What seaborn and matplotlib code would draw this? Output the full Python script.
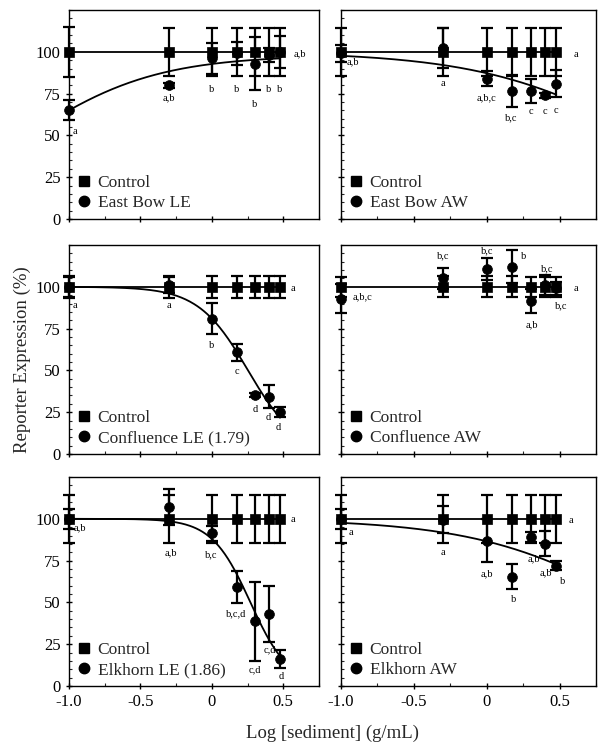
import numpy as np
import pandas as pd
import matplotlib
matplotlib.use("Agg")
import matplotlib.pyplot as plt
from matplotlib.lines import Line2D
from matplotlib.ticker import FixedLocator, MultipleLocator
import seaborn as sns

# ---------------- data ----------------
log_conc = [-1.0, -0.301, 0.0, 0.176, 0.301, 0.398, 0.477]

panel_names = ["East Bow LE", "East Bow AW", "Confluence LE (1.79)",
               "Confluence AW", "Elkhorn LE (1.86)", "Elkhorn AW"]

control_mean = {
    "East Bow LE": [100, 100, 100, 100, 100, 100, 100],
    "East Bow AW": [100, 100, 100, 100, 100, 100, 100],
    "Confluence LE (1.79)": [100, 100, 100, 100, 100, 100, 100],
    "Confluence AW": [100, 100, 100, 100, 100, 100, 100],
    "Elkhorn LE (1.86)": [100, 100, 100, 100, 100, 100, 100],
    "Elkhorn AW": [100, 100, 100, 100, 100, 100, 100],
}
control_err = {
    "East Bow LE": [15, 14.5, 14.5, 14.5, 14.5, 14.5, 14.5],
    "East Bow AW": [14.5, 14.5, 14.5, 14.5, 14.5, 14.5, 14.5],
    "Confluence LE (1.79)": [6.5, 6.5, 6.5, 6.5, 6.5, 6.5, 6.5],
    "Confluence AW": [6, 6.3, 6.3, 6.3, 6, 6, 6],
    "Elkhorn LE (1.86)": [14.5, 14.5, 14.5, 14.5, 14.5, 14.5, 14.5],
    "Elkhorn AW": [14.4, 14.4, 14.4, 14.4, 14.4, 14.4, 14.4],
}
sample_mean = {
    "East Bow LE": [65, 80, 96, 99, 93, 98, 100],
    "East Bow AW": [99, 102.5, 84, 76.5, 76.5, 74, 81],
    "Confluence LE (1.79)": [100, 101, 81, 60.8, 35.3, 34.3, 25.3],
    "Confluence AW": [93, 105, 110.6, 112, 91.6, 101, 99],
    "Elkhorn LE (1.86)": [100, 107, 91.3, 59.4, 38.8, 43.2, 16.2],
    "Elkhorn AW": [100, 99.5, 87, 65.4, 89, 85.2, 71.9],
}
sample_err = {
    "East Bow LE": [6, 1.5, 9.3, 6.7, 16, 4, 9.5],
    "East Bow AW": [5, 12, 4.5, 9.5, 7.3, 1.5, 8],
    "Confluence LE (1.79)": [6, 5, 9.3, 5, 1, 7, 3],
    "Confluence AW": [8.5, 6.4, 6.5, 10, 7, 6, 4],
    "Elkhorn LE (1.86)": [6, 11, 4.5, 9.6, 23.6, 16.7, 5.6],
    "Elkhorn AW": [6, 8, 13, 7.3, 3, 7.5, 2.8],
}
# fitted dose-response curves: (bottom, top, logEC50, hill); None = no curve
fit_params = {
    "East Bow LE": (0, 98, -1.31, -0.95),
    "East Bow AW": (0, 100, 1.074, 0.776),
    "Confluence LE (1.79)": (0, 100, 0.253, 2.49),
    "Confluence AW": None,
    "Elkhorn LE (1.86)": (0, 100, 0.27, 3.2),
    "Elkhorn AW": (0, 100, 1.01, 0.80),
}
# significance letters (text, x, y)
letters = {
    "East Bow LE": [("a", -0.958, 52.4), ("a,b", -0.30, 72.6), ("b", 0.0, 77.4),
                    ("b", 0.176, 77.4), ("b", 0.301, 68.5), ("b", 0.398, 77.4),
                    ("b", 0.477, 77.4), ("a,b", 0.616, 98.6)],
    "East Bow AW": [("a,b", -0.916, 94.2), ("a", -0.30, 80.8), ("a,b,c", 0.0, 72.4),
                    ("b,c", 0.17, 60.5), ("c", 0.301, 64.5), ("c", 0.398, 64.0),
                    ("c", 0.477, 65.0), ("a", 0.612, 98.6)],
    "Confluence LE (1.79)": [("a", -0.96, 89), ("a", -0.30, 89), ("b", 0.0, 64.7),
                             ("c", 0.176, 49.2), ("d", 0.305, 26.9), ("d", 0.398, 21.7),
                             ("d", 0.468, 15.7), ("a", 0.569, 99)],
    "Confluence AW": [("a,b,c", -0.851, 94), ("b,c", -0.30, 118.5), ("b,c", 0.0, 121.5),
                      ("b", 0.254, 118), ("a,b", 0.312, 77.5), ("b,c", 0.414, 111),
                      ("b,c", 0.509, 88.6), ("a", 0.612, 99)],
    "Elkhorn LE (1.86)": [("a,b", -0.924, 94.7), ("a,b", -0.29, 79.8), ("b,c", -0.005, 78.4),
                          ("b,c,d", 0.17, 43.2), ("c,d", 0.303, 9.9), ("c,d", 0.407, 21.8),
                          ("d", 0.488, 5.9), ("a", 0.569, 99.6)],
    "Elkhorn AW": [("a", -0.935, 91.7), ("a", -0.30, 79.8), ("a,b", 0.0, 67.3),
                   ("b", 0.184, 51.5), ("a,b", 0.321, 75.9), ("a,b", 0.405, 67.9),
                   ("b", 0.519, 62.6), ("a", 0.575, 99.2)],
}

xtick_vals = [-1.0, -0.5, 0.0, 0.5]
xtick_labels = ["-1.0", "-0.5", "0", "0.5"]
ytick_vals = [0, 25, 50, 75, 100]
ytick_labels = ["0", "25", "50", "75", "100"]


def hill(x, bottom, top, logec, h):
    return bottom + (top - bottom) / (1.0 + 10 ** ((x - logec) * h))


# ---------------- style ----------------
sns.set_theme(style="ticks")
plt.rcParams["font.family"] = ["Liberation Serif", "DejaVu Serif"]
plt.rcParams["axes.linewidth"] = 1.0

W, H = 605, 750
fig = plt.figure(figsize=(W / 100, H / 100), dpi=100)

col_px = [(69, 319), (341, 596)]
row_px = [(10, 219), (245, 454), (477, 686)]

for i, name in enumerate(panel_names):
    r, c = divmod(i, 2)
    x0, x1 = col_px[c]
    y0, y1 = row_px[r]
    ax = fig.add_axes([x0 / W, 1 - y1 / H, (x1 - x0) / W, (y1 - y0) / H])

    ax.errorbar(log_conc, control_mean[name], yerr=control_err[name], fmt="none",
                ecolor="black", elinewidth=1.6, capsize=4, capthick=1.6,
                clip_on=False, zorder=2)
    ax.errorbar(log_conc, sample_mean[name], yerr=sample_err[name], fmt="none",
                ecolor="black", elinewidth=1.6, capsize=4, capthick=1.6,
                clip_on=False, zorder=2)

    sns.lineplot(x=log_conc, y=control_mean[name], color="black", linewidth=1.3,
                 estimator=None, sort=False, ax=ax, zorder=3)
    p = fit_params[name]
    if p is not None:
        xs = np.linspace(log_conc[0], log_conc[-1], 200)
        ys = hill(xs, *p)
        sns.lineplot(x=xs, y=ys, color="black", linewidth=1.3,
                     estimator=None, sort=False, ax=ax, zorder=3)

    sns.scatterplot(x=log_conc, y=control_mean[name], marker="s", s=48,
                    color="black", edgecolor="black", linewidth=0.5, ax=ax,
                    zorder=5, clip_on=False)
    sns.scatterplot(x=log_conc, y=sample_mean[name], marker="o", s=50,
                    color="black", edgecolor="black", linewidth=0.5, ax=ax,
                    zorder=6, clip_on=False)

    for txt, lx, ly in letters[name]:
        ax.text(lx, ly, txt, fontsize=7.5, ha="center", va="center", color="black")

    ax.set_xlim(-1.0, 0.75)
    ax.set_ylim(0, 125)
    ax.xaxis.set_major_locator(FixedLocator(xtick_vals))
    ax.xaxis.set_minor_locator(MultipleLocator(0.25))
    ax.yaxis.set_major_locator(FixedLocator(ytick_vals))
    ax.yaxis.set_minor_locator(MultipleLocator(5))
    ax.tick_params(axis="both", which="major", direction="inout", length=5,
                   width=1.0, labelsize=12, colors="black")
    ax.tick_params(axis="both", which="minor", direction="in", length=2.5, width=0.8)
    ax.tick_params(top=False, right=False, which="both")
    if c == 0:
        ax.set_yticklabels(ytick_labels)
    else:
        ax.set_yticklabels([])
    if r == 2:
        ax.set_xticklabels(xtick_labels)
    else:
        ax.set_xticklabels([])
    ax.set_xlabel("")
    ax.set_ylabel("")
    for sp in ax.spines.values():
        sp.set_visible(True)
        sp.set_color("black")

    handles = [Line2D([], [], marker="s", color="black", linestyle="none", markersize=7),
               Line2D([], [], marker="o", color="black", linestyle="none", markersize=7.5)]
    leg = ax.legend(handles, ["Control", name], loc="lower left", frameon=False,
                    fontsize=12.5, handlelength=0.8, handletextpad=0.4,
                    borderaxespad=0.15, borderpad=0.3, labelspacing=0.22)

fig.text(22 / W, 1 - 360 / H, "Reporter Expression (%)", rotation=90,
         ha="center", va="center", fontsize=13.5)
fig.text(332 / W, 1 - 733 / H, "Log [sediment] (g/mL)", ha="center", va="center",
         fontsize=13.5)

fig.savefig("out.png", dpi=100)
